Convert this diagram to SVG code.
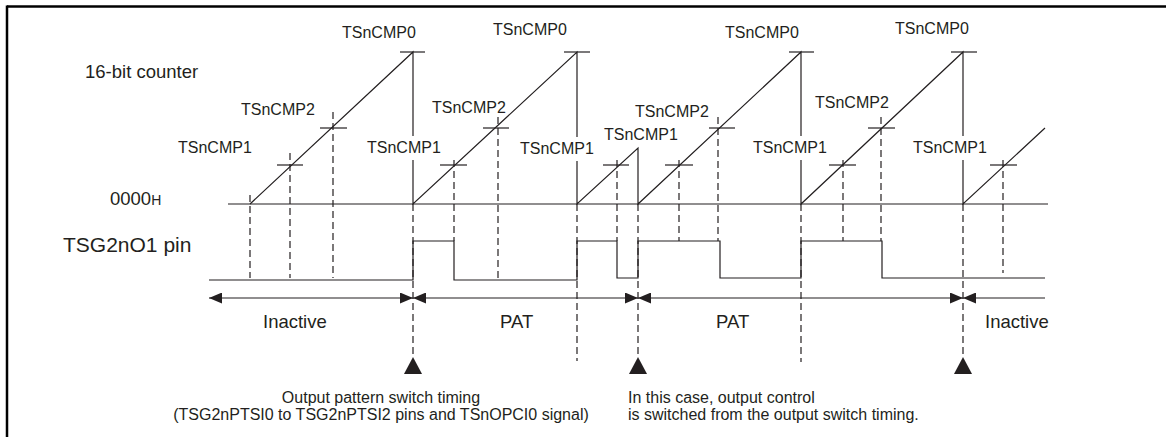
<svg xmlns="http://www.w3.org/2000/svg" width="1166" height="437" viewBox="0 0 1166 437">
<defs>
<style>
.ln{stroke:#231f20;stroke-width:1.2;fill:none}
.ds{stroke:#231f20;stroke-width:1.2;fill:none;stroke-dasharray:7 4}
.tk{stroke:#231f20;stroke-width:1.2}
.t16{font-family:"Liberation Sans",Arial,sans-serif;font-size:16px;fill:#231f20}
.t18{font-family:"Liberation Sans",Arial,sans-serif;font-size:18.5px;fill:#231f20}
.bg{fill:#ffffff}
</style>
<marker id="ah" viewBox="0 0 13 11" refX="13" refY="5.5" markerWidth="13" markerHeight="11" markerUnits="userSpaceOnUse" orient="auto-start-reverse">
<path d="M0,0 L13,5.5 L0,11 Z" fill="#231f20"/>
</marker>
</defs>
<rect width="1166" height="437" fill="#ffffff"/>
<g id="frame">
<line x1="7" y1="6.5" x2="1166" y2="6.5" stroke="#000" stroke-width="2.5"/>
<line x1="7" y1="5.5" x2="7" y2="437" stroke="#000" stroke-width="2.5"/>
</g>
<g id="connectors">
<g id="timing-lines">
<line class="ds" x1="250" y1="195" x2="250" y2="278"/>
<line class="ds" x1="290" y1="153" x2="290" y2="278"/>
<line class="ds" x1="333" y1="112" x2="333" y2="278"/>
<line class="ds" x1="413" y1="204" x2="413" y2="357"/>
<line class="ds" x1="454" y1="160" x2="454" y2="241"/>
<line class="ds" x1="498" y1="117" x2="498" y2="280"/>
<line class="ds" x1="577" y1="204" x2="577" y2="361"/>
<line class="ds" x1="617" y1="160" x2="617" y2="241"/>
<line class="ds" x1="638" y1="204" x2="638" y2="357"/>
<line class="ds" x1="679" y1="160" x2="679" y2="241"/>
<line class="ds" x1="718" y1="117" x2="718" y2="241"/>
<line class="ds" x1="801" y1="204" x2="801" y2="362"/>
<line class="ds" x1="843" y1="160" x2="843" y2="241"/>
<line class="ds" x1="881" y1="117" x2="881" y2="241"/>
<line class="ds" x1="963" y1="204" x2="963" y2="357"/>
<line class="ds" x1="1003" y1="160" x2="1003" y2="273"/>
</g>
<g id="counter">
<line class="ln" x1="228" y1="204" x2="1048" y2="204"/>
<polyline class="ln" points="250,204 413,52 413,204 577,52 577,204 638,148 638,204 801,52 801,204 963,52 963,204 1045,128"/>
<g id="ticks">
<line class="tk" x1="400" y1="52" x2="425" y2="52"/>
<line class="tk" x1="564" y1="52" x2="590" y2="52"/>
<line class="tk" x1="789" y1="52" x2="814" y2="52"/>
<line class="tk" x1="951" y1="52" x2="977" y2="52"/>
<line class="tk" x1="277" y1="165" x2="303" y2="165"/>
<line class="tk" x1="440" y1="165" x2="467" y2="165"/>
<line class="tk" x1="603" y1="165" x2="629" y2="165"/>
<line class="tk" x1="665" y1="165" x2="693" y2="165"/>
<line class="tk" x1="829" y1="165" x2="856" y2="165"/>
<line class="tk" x1="990" y1="165" x2="1017" y2="165"/>
<line class="tk" x1="320" y1="128" x2="347" y2="128"/>
<line class="tk" x1="483" y1="128" x2="509" y2="128"/>
<line class="tk" x1="709" y1="128" x2="735" y2="128"/>
<line class="tk" x1="868" y1="128" x2="895" y2="128"/>
</g>
</g>
<g id="pin-waveform">
<polyline class="ln" points="209,280 413,280 413,241 454,241 454,280 577,280 577,241 617,241 617,278 638,278 638,241 720,241 720,278 801,278 801,241 882,241 882,278 1045,278"/>
</g>
<g id="period-arrows">
<line class="ln" x1="209" y1="298" x2="413" y2="298" marker-start="url(#ah)" marker-end="url(#ah)"/>
<line class="ln" x1="413" y1="298" x2="638" y2="298" marker-start="url(#ah)" marker-end="url(#ah)"/>
<line class="ln" x1="638" y1="298" x2="963" y2="298" marker-start="url(#ah)" marker-end="url(#ah)"/>
<line class="ln" x1="963" y1="298" x2="1045" y2="298" marker-start="url(#ah)"/>
</g>
<g id="triggers" fill="#231f20">
<path d="M413,357 L422,374 L404,374 Z"/>
<path d="M638,357 L647,374 L629,374 Z"/>
<path d="M963,357 L972,374 L954,374 Z"/>
</g>
</g>
<g id="label-bg" class="bg">
<rect x="366" y="136" width="72" height="24"/>
<rect x="519" y="137" width="74" height="24"/>
<rect x="752" y="136" width="74" height="24"/>
<rect x="912" y="136" width="74" height="24"/>
</g>
<g id="labels">
<text class="t18" x="85" y="78">16-bit counter</text>
<text class="t18" x="110" y="205">0000<tspan font-size="14">H</tspan></text>
<text class="t18" x="63" y="252" style="font-size:21px">TSG2nO1 pin</text>
<text class="t16" x="342" y="38">TSnCMP0</text>
<text class="t16" x="493" y="35">TSnCMP0</text>
<text class="t16" x="725" y="38">TSnCMP0</text>
<text class="t16" x="895" y="34">TSnCMP0</text>
<text class="t16" x="241" y="115">TSnCMP2</text>
<text class="t16" x="432" y="113">TSnCMP2</text>
<text class="t16" x="635" y="117">TSnCMP2</text>
<text class="t16" x="815" y="108">TSnCMP2</text>
<text class="t16" x="178" y="153">TSnCMP1</text>
<text class="t16" x="367" y="153">TSnCMP1</text>
<text class="t16" x="520" y="154">TSnCMP1</text>
<text class="t16" x="604" y="140">TSnCMP1</text>
<text class="t16" x="753" y="153">TSnCMP1</text>
<text class="t16" x="913" y="153">TSnCMP1</text>
<text class="t18" x="263" y="328">Inactive</text>
<text class="t18" x="500" y="328">PAT</text>
<text class="t18" x="716" y="328">PAT</text>
<text class="t18" x="985" y="328">Inactive</text>
<text class="t16" x="381" y="403" text-anchor="middle">Output pattern switch timing</text>
<text class="t16" x="381" y="420" text-anchor="middle">(TSG2nPTSI0 to TSG2nPTSI2 pins and TSnOPCI0 signal)</text>
<text class="t16" x="628" y="403">In this case, output control</text>
<text class="t16" x="628" y="420">is switched from the output switch timing.</text>
</g>
</svg>
